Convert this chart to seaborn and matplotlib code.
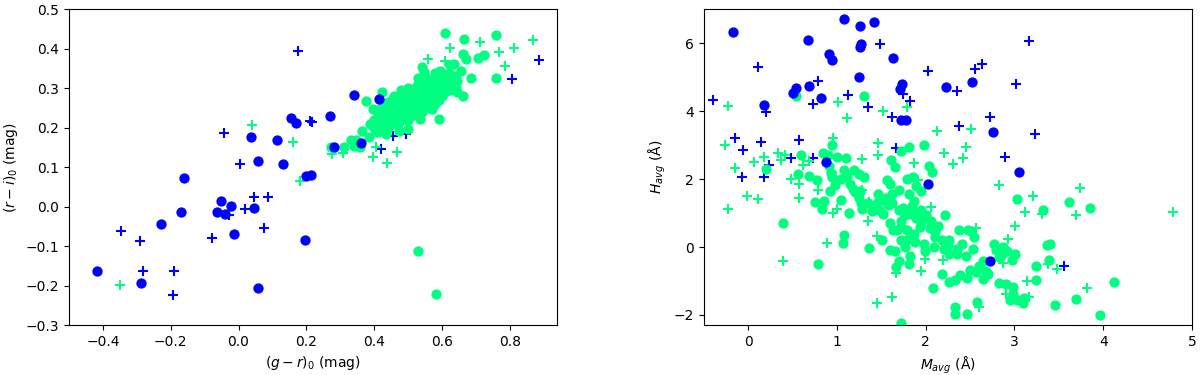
import matplotlib
matplotlib.use("Agg")
import matplotlib.pyplot as plt
import seaborn as sns

BLUE = "#0000ff"
GREEN = "#00ff80"

# ---- left panel: (g-r)_0 vs (r-i)_0 ----
# blue circles
lb_c_gr = [-0.418, -0.288, -0.230, -0.170, -0.161, -0.064, -0.053, -0.039, -0.021, -0.013,
           0.036, 0.047, 0.056, 0.057, 0.113, 0.131, 0.154, 0.170, 0.198, 0.213,
           0.196, 0.269, 0.283, 0.341, 0.360, 0.413]
lb_c_ri = [-0.164, -0.193, -0.043, -0.013, 0.074, -0.013, 0.014, -0.018, 0.002, -0.068,
           0.176, -0.003, 0.116, -0.206, 0.170, 0.109, 0.224, 0.213, 0.079, 0.080,
           -0.085, 0.231, 0.152, 0.284, 0.161, 0.274]
# blue pluses
lb_p_gr = [0.175, -0.044, 0.004, 0.212, 0.218, 0.046, 0.088, 0.019, -0.027, -0.078, 0.074,
           -0.348, -0.292, -0.282, -0.190, -0.192, 0.421, 0.887, 0.807, 0.493, 0.455, 0.450]
lb_p_ri = [0.394, 0.187, 0.109, 0.217, 0.214, 0.025, 0.025, -0.005, -0.022, -0.078, -0.055,
           -0.062, -0.087, -0.163, -0.164, -0.224, 0.145, 0.372, 0.324, 0.185, 0.180, 0.262]
# green pluses
lg_p_gr = [-0.351, 0.040, 0.162, 0.181, 0.277, 0.307, 0.396, 0.405, 0.438, 0.468,
           0.560, 0.610, 0.625, 0.712, 0.768, 0.785, 0.812, 0.868, 0.435, 0.520]
lg_p_ri = [-0.199, 0.206, 0.165, 0.064, 0.134, 0.136, 0.126, 0.151, 0.112, 0.139,
           0.374, 0.370, 0.403, 0.417, 0.392, 0.356, 0.403, 0.423, 0.200, 0.240]
# green circles
lg_c_gr = [0.610, 0.665, 0.758, 0.661, 0.671, 0.705, 0.723, 0.758, 0.685, 0.661, 0.541, 0.530, 0.583,
           0.376, 0.396, 0.424, 0.457, 0.478, 0.494, 0.365, 0.389, 0.405, 0.426, 0.447,
           0.332, 0.311, 0.274, 0.358, 0.384, 0.528, 0.546, 0.593, 0.624, 0.635, 0.655,
           0.643, 0.645, 0.624, 0.591, 0.572, 0.535, 0.499, 0.473, 0.436, 0.509, 0.345, 0.340,
           0.40, 0.40, 0.41, 0.41, 0.41, 0.42, 0.42, 0.42, 0.43, 0.43, 0.43,
           0.44, 0.44, 0.44, 0.44, 0.45, 0.45, 0.45, 0.46, 0.46, 0.46, 0.46,
           0.47, 0.47, 0.47, 0.47, 0.48, 0.48, 0.48, 0.48, 0.49, 0.49, 0.49,
           0.50, 0.50, 0.50, 0.50, 0.50, 0.51, 0.51, 0.51, 0.51, 0.52, 0.52, 0.52, 0.52,
           0.53, 0.53, 0.53, 0.53, 0.54, 0.54, 0.54, 0.54, 0.55, 0.55, 0.55, 0.55, 0.55,
           0.56, 0.56, 0.56, 0.56, 0.57, 0.57, 0.57, 0.58, 0.58, 0.58, 0.58, 0.58,
           0.59, 0.59, 0.59, 0.59, 0.60, 0.60, 0.60, 0.60, 0.61, 0.61, 0.61,
           0.62, 0.62, 0.62, 0.63, 0.63, 0.64, 0.64]
lg_c_ri = [0.440, 0.426, 0.434, 0.387, 0.375, 0.377, 0.385, 0.327, 0.327, 0.281, 0.354, -0.111, -0.222,
           0.269, 0.248, 0.290, 0.273, 0.295, 0.290, 0.193, 0.210, 0.193, 0.231, 0.244,
           0.168, 0.151, 0.151, 0.151, 0.176, 0.327, 0.341, 0.345, 0.358, 0.362, 0.343,
           0.318, 0.290, 0.295, 0.223, 0.248, 0.223, 0.197, 0.193, 0.185, 0.235, 0.170, 0.155,
           0.20, 0.22, 0.19, 0.21, 0.235, 0.20, 0.22, 0.25, 0.21, 0.23, 0.26,
           0.20, 0.22, 0.24, 0.265, 0.21, 0.23, 0.25, 0.22, 0.24, 0.26, 0.28,
           0.21, 0.23, 0.25, 0.27, 0.22, 0.24, 0.26, 0.28, 0.23, 0.25, 0.27,
           0.22, 0.24, 0.26, 0.28, 0.30, 0.23, 0.25, 0.27, 0.29, 0.24, 0.26, 0.28, 0.30,
           0.25, 0.27, 0.29, 0.31, 0.24, 0.26, 0.28, 0.30, 0.25, 0.27, 0.29, 0.31, 0.33,
           0.26, 0.28, 0.30, 0.32, 0.27, 0.29, 0.31, 0.26, 0.28, 0.30, 0.32, 0.34,
           0.27, 0.29, 0.31, 0.33, 0.28, 0.30, 0.32, 0.34, 0.29, 0.31, 0.33,
           0.30, 0.32, 0.34, 0.31, 0.33, 0.30, 0.33]

# ---- right panel: M_avg vs H_avg ----
rb_c_m = [-0.171, 1.077, 1.265, 1.419, 0.676, 1.269, 1.260, 0.906, 0.943, 1.632, 1.252,
          0.543, 0.509, 0.689, 0.822, 0.184, 1.736, 1.711, 1.724, 1.778, 2.229, 2.521,
          2.759, 3.047, 2.028, 2.725, 0.881]
rb_c_h = [6.33, 6.73, 6.51, 6.64, 6.10, 5.97, 5.90, 5.70, 5.52, 5.56, 5.01,
          4.68, 4.54, 4.74, 4.38, 4.18, 4.79, 4.66, 3.75, 3.74, 4.71, 4.85,
          3.38, 2.21, 1.86, -0.40, 2.49]
rb_p_m = [-0.401, 0.109, -0.150, -0.054, -0.071, 0.146, 0.184, 0.200, 0.230, 0.488, 0.576,
          0.726, 0.730, 0.785, 1.127, 1.348, 1.486, 1.624, 1.661, 1.745, 1.828, 2.024,
          2.354, 2.379, 2.554, 2.634, 2.721, 2.896, 3.013, 3.159, 3.230, 3.556]
rb_p_h = [4.33, 5.30, 3.20, 2.87, 2.05, 3.08, 2.05, 3.98, 2.42, 2.62, 3.16,
          2.62, 4.22, 4.90, 4.49, 4.12, 5.97, 3.83, 2.92, 4.50, 4.29, 5.18,
          4.60, 3.56, 5.24, 5.38, 3.82, 2.66, 4.80, 6.07, 3.34, -0.57]
rg_p_m = [-0.225, -0.263, -0.142, -0.230, -0.008, 0.113, 0.071, 0.180, 0.338, 0.367, 0.417,
          0.396, 0.480, 0.568, 0.568, 0.618, 0.689, 0.785, 0.894, 0.960, 0.943, 0.952,
          1.018, 1.119, 1.006, 1.281, 1.285, 1.352, 1.361, 1.453, 1.461, 1.465, 1.453,
          1.519, 1.619, 1.661, 1.795, 1.866, 1.911, 1.945, 1.995, 2.058, 2.124, 2.204,
          2.191, 2.312, 2.425, 2.454, 2.508, 2.571, 2.600, 2.825, 2.871, 2.905, 2.926,
          3.005, 3.118, 3.147, 3.164, 3.214, 3.314, 3.381, 3.481, 3.698, 3.736, 3.823, 4.787]
rg_p_h = [4.14, 3.02, 2.32, 1.11, 1.50, 1.41, 2.49, 2.66, 2.78, 2.57, 2.71,
          -0.41, 2.00, 1.87, 1.44, 2.41, 2.54, 1.67, 0.13, 3.21, 2.22, 1.01,
          4.26, 3.80, 1.11, 2.59, 1.69, 0.76, 1.32, -1.64, 3.06, 2.72, 0.33,
          4.00, -1.48, -0.77, 4.13, 2.47, 1.96, -0.71, -0.34, 1.18, 3.42, 2.76,
          -0.39, 2.44, 2.62, 2.94, 3.49, 0.55, -1.76, 1.82, -0.46, -1.37, 0.24,
          0.61, 1.02, -1.01, -1.47, 1.50, 0.98, -0.51, -0.65, 0.93, 1.75, -1.21, 1.02]
rg_c_m = [0.538, 1.302, 0.947, 0.597, 0.196, 0.392, 0.559, 0.689, 0.772, 0.839, 0.898,
          0.910, 0.935, 0.981, 0.922, 1.048, 0.751, 0.856, 0.831, 1.006, 1.098, 1.085,
          1.119, 1.190, 1.252, 1.306, 1.186, 1.202, 1.265, 1.277, 1.285, 1.135, 1.077,
          1.068, 1.361, 0.785, 1.511, 1.599, 1.632, 1.465, 1.503, 1.453, 1.478, 1.520,
          1.578, 1.624, 1.570, 1.599, 1.608, 1.653, 1.703, 1.720, 1.811, 1.790, 1.861,
          1.894, 1.945, 1.807, 1.870, 1.982, 2.041, 2.070, 1.745, 1.766, 1.828, 1.728,
          1.891, 1.953, 1.995, 2.058, 2.141, 2.220, 1.932, 1.682, 1.786, 1.870, 1.724,
          1.766, 1.978, 2.091, 2.107, 2.183, 2.258, 2.204, 2.266, 2.354, 2.404, 2.379,
          2.475, 2.516, 2.529, 1.653, 1.703, 1.670, 1.828, 1.816, 1.995, 2.078, 1.720,
          2.183, 2.258, 2.329, 2.391, 2.462, 2.504, 2.567, 2.650, 2.684, 2.642, 2.767,
          2.788, 2.871, 2.913, 2.976, 3.005, 2.830, 2.821, 2.905, 2.984, 2.988, 2.955,
          3.030, 3.105, 3.093, 2.329, 2.329, 2.462, 2.575, 3.030, 3.247, 3.247, 3.322,
          3.372, 3.397, 3.385, 3.455, 3.614, 3.690, 3.852, 3.965, 4.124,
          1.55, 1.62, 1.70, 1.85, 1.90, 2.00, 1.95, 2.05, 1.60, 1.72, 2.10, 1.88,
          1.80, 2.25, 2.35, 2.45, 2.60, 2.70, 2.55, 2.85, 1.35, 1.40, 1.25, 1.15, 1.05, 0.95]
rg_c_h = [4.46, 4.44, 3.02, 2.70, 2.29, 0.71, 2.14, 2.09, 1.98, 2.76, 2.71,
          2.38, 2.19, 1.82, 1.64, 1.40, 1.33, 1.36, 1.12, 2.64, 2.62, 2.27,
          2.06, 2.26, 2.16, 2.06, 1.71, 1.62, 1.65, 1.29, 1.11, 1.00, 0.34,
          0.12, -0.02, -0.49, 0.20, -0.09, 0.49, 1.55, 1.39, 1.29, 1.10, 0.98,
          1.25, 1.57, 1.96, 1.86, 2.57, 2.37, 1.68, 2.84, 2.96, 2.01, 2.06,
          1.80, 1.66, 1.57, 1.37, 3.02, 2.38, 2.20, 1.14, 0.93, 0.98, 0.78,
          0.86, 1.10, 0.88, 0.78, 0.61, 0.95, 0.59, 0.49, 0.49, 0.39, 0.20,
          0.00, 0.10, 0.00, 0.31, 0.20, 0.22, -0.05, -0.20, -0.20, 0.10, 0.49,
          0.49, 0.47, -0.06, -0.12, -0.41, -0.59, -0.27, -0.49, -0.12, -1.22, -2.23,
          -0.80, -1.03, -0.96, -0.83, -0.90, -0.67, -0.73, -0.94, -0.71, -0.41, 0.10,
          -0.10, 0.00, -0.12, -0.39, -0.20, -0.29, -1.06, -1.08, -1.18, -1.37, -1.55,
          -1.57, -1.50, -1.65, -1.76, -1.98, -1.98, -1.61, 1.41, -0.96, -0.57, 1.10,
          0.05, 0.10, -0.37, -1.72, 1.32, -1.52, 1.16, -1.99, -1.03,
          1.45, 1.30, 1.10, 1.20, 1.00, 0.95, 0.75, 0.55, 0.70, 0.60, 0.45, 0.15,
          0.25, 0.05, -0.05, -0.25, -0.55, -0.80, 0.30, -0.25, 1.30, 1.05, 1.45, 1.85, 2.00, 2.05]

fig, (ax1, ax2) = plt.subplots(1, 2, figsize=(12, 3.75), dpi=100)
fig.subplots_adjust(left=0.0575, right=0.9933, bottom=0.133, top=0.975, wspace=0.30)

circ = dict(marker="o", s=55, linewidth=0)
plus = dict(marker="+", s=45, linewidth=1.5)

sns.scatterplot(x=lb_p_gr, y=lb_p_ri, color=BLUE, ax=ax1, **plus)
sns.scatterplot(x=lg_p_gr, y=lg_p_ri, color=GREEN, ax=ax1, **plus)
sns.scatterplot(x=lg_c_gr, y=lg_c_ri, color=GREEN, ax=ax1, **circ)
sns.scatterplot(x=lb_c_gr, y=lb_c_ri, color=BLUE, ax=ax1, **circ)
ax1.set_xlim(-0.5, 0.94)
ax1.set_ylim(-0.3, 0.5)
ax1.set_xlabel(r"$(g-r)_0$ (mag)")
ax1.set_ylabel(r"$(r-i)_0$ (mag)")

sns.scatterplot(x=rb_p_m, y=rb_p_h, color=BLUE, ax=ax2, **plus)
sns.scatterplot(x=rg_p_m, y=rg_p_h, color=GREEN, ax=ax2, **plus)
sns.scatterplot(x=rg_c_m, y=rg_c_h, color=GREEN, ax=ax2, **circ)
sns.scatterplot(x=rb_c_m, y=rb_c_h, color=BLUE, ax=ax2, **circ)
ax2.set_xlim(-0.5, 5)
ax2.set_ylim(-2.3, 7)
ax2.set_xlabel(r"$M_{avg}$ (Å)")
ax2.set_ylabel(r"$H_{avg}$ (Å)")

plt.savefig("out.png", dpi=100)
